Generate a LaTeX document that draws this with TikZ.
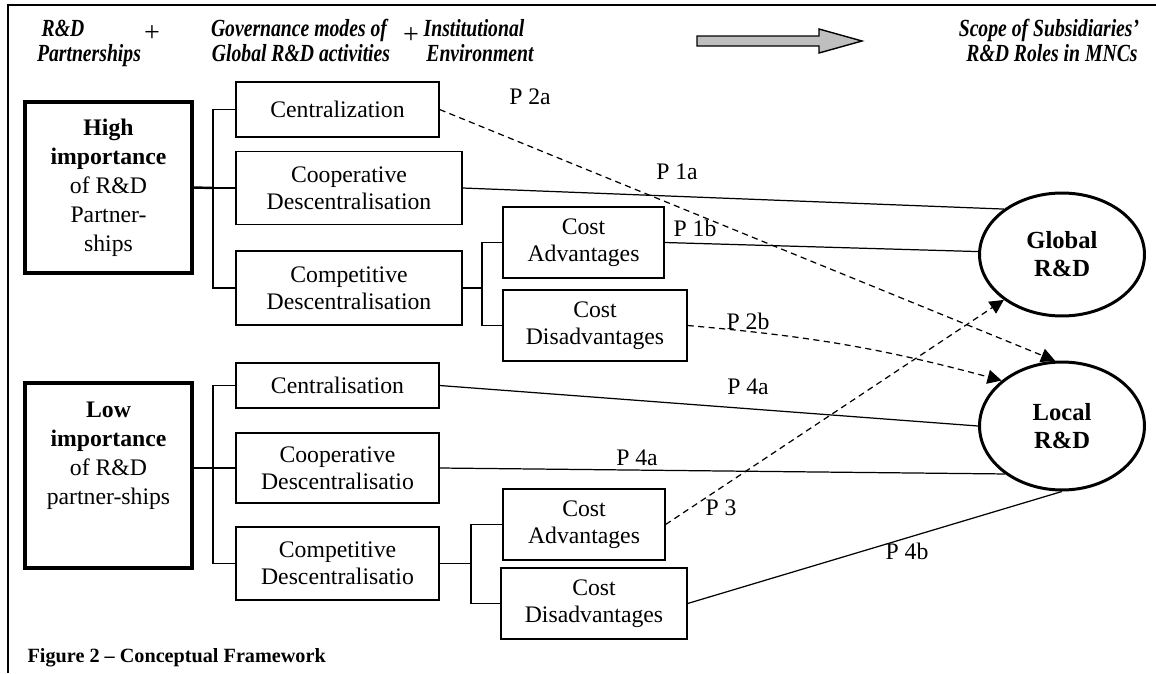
\documentclass[tikz,border=0pt]{standalone}
\usepackage{fontspec}
\setmainfont{Liberation Serif}
\newfontfamily\headfont[FakeStretch=0.8]{Liberation Serif}
\usetikzlibrary{shapes.geometric,arrows.meta}

\begin{document}
\begin{tikzpicture}[x=0.02cm, y=-0.02cm, line width=0.7pt,
	box/.style = {draw, rectangle, align=center, inner sep=0pt, font=\fontsize{13.5}{15.5}\selectfont},
	bigbox/.style = {draw, rectangle, line width=2pt, minimum width=3.34cm, inner sep=0pt},
	role/.style = {draw, ellipse, line width=1.7pt, align=center, minimum width=3.3cm, font=\fontsize{14}{16}\selectfont\bfseries},
	head/.style = {anchor=base, inner sep=0pt, font=\headfont\fontsize{14}{16}\selectfont\bfseries\itshape},
	plus/.style = {inner sep=0pt, font=\fontsize{16}{18}\selectfont},
	prop/.style = {inner sep=0pt, font=\fontsize{13.5}{15.5}\selectfont},
	hyp/.style = {dash pattern=on 3.5pt off 2.5pt, -{Triangle[length=8pt, width=8pt]}}]
	\useasboundingbox (0,0) rectangle (1156,673);
	\draw[line width=0.9pt] (8,673) -- (8,5) -- (1156,5);
	% header
	\node[head] (hA1) at (63,36) {R\&D};
	\node[head] (hA2) at (89,61) {Partnerships};
	\node[plus] (plus1) at (152,34) {+};
	\node[head] (hB1) at (299,36) {Governance modes of};
	\node[head] (hB2) at (301,61) {Global R\&D activities};
	\node[plus] (plus2) at (411,36) {+};
	\node[head] (hC1) at (474,36) {Institutional};
	\node[head] (hC2) at (480,61) {Environment};
	\node[head] (hD1) at (1049,36) {Scope of Subsidiaries’};
	\node[head] (hD2) at (1052,61) {R\&D Roles in MNCs};
	\draw[fill=gray!50, line width=0.8pt] (697,36) -- (819,36) -- (819,29) -- (862,41) -- (819,53) -- (819,46) -- (697,46) -- cycle;
	% partnerships
	\node[bigbox, minimum height=3.42cm, align=center, font=\fontsize{13.5}{16.5}\selectfont] (high) at (108.5,187.5) {\textbf{High}\\ \textbf{importance}\\ of R\&D\\ Partner-\\ ships};
	\node[bigbox, minimum height=3.7cm] (low) at (108.5,475.5) {};
	\node[align=center, inner sep=0pt, font=\fontsize{13.5}{16.5}\selectfont] (lowtext) at (108.5,456) {\textbf{Low}\\ \textbf{importance}\\ of R\&D\\ partner-ships};
	% governance modes
	\node[box, minimum width=4.06cm, minimum height=1.1cm] (cenH) at (337.5,109.5) {Centralization};
	\node[box, minimum width=4.52cm, minimum height=1.46cm] (coopH) at (349,188) {Cooperative\\ Descentralisation};
	\node[box, minimum width=4.52cm, minimum height=1.48cm] (compH) at (349,288) {Competitive\\ Descentralisation};
	\node[box, minimum width=3.22cm, minimum height=1.42cm] (advH) at (583.5,242.5) {Cost\\ Advantages};
	\node[box, minimum width=3.68cm, minimum height=1.42cm] (disH) at (595,325.5) {Cost\\ Disadvantages};
	\node[box, minimum width=4.06cm, minimum height=0.9cm] (cenL) at (337.5,385.5) {Centralisation};
	\node[box, minimum width=4.06cm, minimum height=1.4cm] (coopL) at (337.5,468) {Cooperative\\ Descentralisatio};
	\node[box, minimum width=4.06cm, minimum height=1.46cm] (compL) at (337.5,563.5) {Competitive\\ Descentralisatio};
	\node[box, minimum width=3.24cm, minimum height=1.42cm] (advL) at (584,524.5) {Cost\\ Advantages};
	\node[box, minimum width=3.72cm, minimum height=1.42cm] (disL) at (594,603.5) {Cost\\ Disadvantages};
	% roles
	\node[role, minimum height=2.46cm] (glob) at (1062,254.5) {Global\\ R\&D};
	\node[role, minimum height=2.56cm] (loc) at (1062,426) {Local\\ R\&D};
	% brackets
	\coordinate (hj) at (213,188);
	\coordinate (cj) at (482,288);
	\coordinate (lj) at (213,468);
	\coordinate (dj) at (471,563.5);
	\draw[line width=1.4pt] (high.east) -- (hj);
	\draw[line width=1.4pt] (lj -| low.east) -- (lj);
	\draw (cenH.west) -| (hj) (coopH.west) -- (hj) (compH.west) -| (hj);
	\draw (compH.east) -- (cj) (advH.west) -| (cj) (disH.west) -| (cj);
	\draw (cenL.west) -| (lj) (coopL.west) -- (lj) (compL.west) -| (lj);
	\draw (compL.east) -- (dj) (advL.west) -| (dj) (disL.west) -| (dj);
	% propositions
	\path
	(coopH.east) edge (glob.142)
	(advH.east) edge (glob.178)
	(cenL.east) edge (loc.180)
	(coopL.east) edge (loc.220)
	(disL.east) edge (loc.270);
	\path[hyp]
	(cenH.east) edge (loc.96)
	(disH.east) edge[out=-5, in=165] (loc.143)
	(advL.east) edge (glob.218);
	\node[prop] (p2a) at (530,97) {P 2a};
	\node[prop] (p1a) at (677,172) {P 1a};
	\node[prop] (p1b) at (695,228) {P 1b};
	\node[prop] (p2b) at (748,321) {P 2b};
	\node[prop] (p4a) at (748,387) {P 4a};
	\node[prop] (p4aa) at (637,458) {P 4a};
	\node[prop] (p3) at (721,508) {P 3};
	\node[prop] (p4b) at (907,551) {P 4b};
	\node[anchor=base west, inner sep=0pt, font=\fontsize{11.5}{13}\selectfont\bfseries] (cap) at (27,662) {Figure 2 – Conceptual Framework};
\end{tikzpicture}
\end{document}
